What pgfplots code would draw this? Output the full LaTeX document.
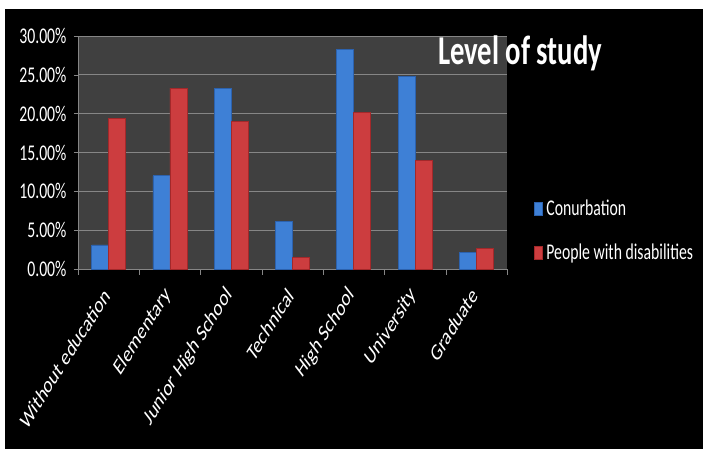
\documentclass[border=0pt]{standalone}
\usepackage{fontspec}
\setmainfont{Carlito}[FakeStretch=0.7]
\newfontfamily\plainfont{Carlito}
\usepackage{pgfplots}
\pgfplotsset{compat=1.18}
\definecolor{plotbg}{HTML}{404040}
\definecolor{gridc}{HTML}{868686}
\definecolor{blueA}{HTML}{2C62AE}
\definecolor{blueB}{HTML}{3E80D6}
\definecolor{redA}{HTML}{A3282A}
\definecolor{redB}{HTML}{CC3D3F}
\begin{document}
\begin{tikzpicture}
\path[use as bounding box] (0bp,0bp) rectangle (703bp,449bp);
\fill[white] (0bp,0bp) rectangle (703bp,449bp);
\fill[black] (5bp,0bp) rectangle (703bp,440bp);
\begin{axis}[
  at={(78bp,180bp)}, anchor=south west,
  scale only axis, width=429bp, height=233bp,
  clip=false,
  xmin=-0.5, xmax=6.5, ymin=0, ymax=30,
  axis background/.style={fill=plotbg},
  ybar=0pt, bar width=17bp,
  axis x line*=bottom, axis y line*=left,
  axis line style={gridc,-},
  every tick/.style={gridc},
  tick align=outside,
  xtick={0,...,6},
  xticklabels={Without education,Elementary,Junior High School,Technical,High School,University,Graduate},
  major x tick style={draw=none},
  minor xtick={-0.5,0.5,...,6.5},
  minor tick length=6bp,
  major tick length=4bp,
  ytick={0,5,...,30},
  ymajorgrids, grid style={gridc, line width=0.8bp},
  /pgf/number format/assume math mode=true,
  yticklabel={\pgfmathprintnumber[fixed,fixed zerofill,precision=2]{\tick}\%},
  yticklabel style={text=white, font=\fontsize{22.5bp}{27bp}\selectfont, xshift=-4bp},
  xticklabel style={text=white, font=\plainfont\fontsize{23.5bp}{27bp}\selectfont, yshift=-16bp, xscale=0.7, rotate=48, anchor=east},
  legend style={at={(rel axis cs:1.055,0.165)}, anchor=west, draw=none, fill=none, text=white,
    font=\fontsize{22.5bp}{27bp}\selectfont, row sep=22.5bp},
  legend cell align=left,
  legend image code/.code={\path[#1] (0bp,-6.5bp) rectangle (8bp,6.5bp); \path (10bp,0bp);},
]
\addplot[fill=blueB, draw=blueA, line width=0.6bp]
  coordinates {(0,3.1) (1,12.0) (2,23.3) (3,6.1) (4,28.3) (5,24.8) (6,2.1)};
\addplot[fill=redB, draw=redA, line width=0.6bp]
  coordinates {(0,19.4) (1,23.3) (2,19.0) (3,1.5) (4,20.2) (5,14.0) (6,2.7)};
\legend{Conurbation, People with disabilities}
\node[anchor=base west, inner sep=0pt, text=white, font=\bfseries\fontsize{41bp}{45bp}\selectfont]
  at (rel axis cs:0.839,0.876) {Level of study};
\end{axis}
\end{tikzpicture}
\end{document}
